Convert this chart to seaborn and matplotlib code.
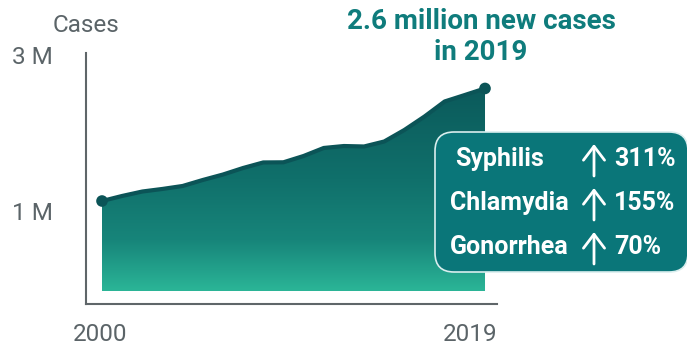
import numpy as np
import pandas as pd
import matplotlib
matplotlib.use("Agg")
import matplotlib.pyplot as plt
import seaborn as sns
from matplotlib.colors import LinearSegmentedColormap
from matplotlib.patches import FancyBboxPatch, FancyArrowPatch
from matplotlib.transforms import IdentityTransform

# New STD cases per year (millions)
years = list(range(2000, 2020))
cases = [1.155, 1.22, 1.277, 1.31, 1.348, 1.425, 1.495, 1.579, 1.65, 1.652,
         1.733, 1.836, 1.861, 1.855, 1.919, 2.067, 2.24, 2.433, 2.516, 2.6]

y_ticks = [1, 3]
y_tick_labels = ["1 M", "3 M"]
x_tick_labels = ["2000", "2019"]

diseases = ["Syphilis", "Chlamydia", "Gonorrhea"]
increases = ["311%", "155%", "70%"]

headline = "2.6 million new cases\nin 2019"

df = pd.DataFrame({"year": years, "cases": cases})

sns.set_style("white")
plt.rcParams["font.family"] = ["Roboto", "DejaVu Sans"]

W, H = 687, 347
fig = plt.figure(figsize=(W / 100, H / 100), dpi=100)
ax = fig.add_axes([86 / W, 1 - 304 / H, (497 - 86) / W, (304 - 53) / H])

XLIM = (1999.206, 2019.595)
YLIM = (-0.167, 3.055)

# gradient area under the curve
cmap = LinearSegmentedColormap.from_list(
    "teal", [(0.0, "#2bb597"), (0.25, "#17857a"), (0.55, "#10706b"), (1.0, "#0b5a5b")])
grad = np.linspace(0, 1, 256).reshape(-1, 1)
img = ax.imshow(grad, cmap=cmap, origin="lower", aspect="auto",
                extent=[years[0], years[-1], 0, max(cases)], zorder=1)
poly = ax.fill_between(df["year"], 0, df["cases"], color="none", lw=0)
img.set_clip_path(poly.get_paths()[0], transform=ax.transData)

sns.lineplot(data=df, x="year", y="cases", ax=ax, color="#0b5457", lw=3, zorder=3)
ends = df.iloc[[0, -1]]
sns.scatterplot(data=ends, x="year", y="cases", ax=ax, color="#0b5457", s=70,
                edgecolor="none", zorder=4)

ax.set_xlim(*XLIM)
ax.set_ylim(*YLIM)

# axes styling
for s in ["top", "right"]:
    ax.spines[s].set_visible(False)
for s in ["left", "bottom"]:
    ax.spines[s].set_color("#5f6669")
    ax.spines[s].set_linewidth(1.5)
ax.set_xticks([])
ax.set_yticks([])
ax.set_xlabel("")
ax.set_ylabel("")

grey = "#5b6468"
for v, lab in zip(y_ticks, y_tick_labels):
    ax.text(XLIM[0] - 33 / 20.16, v, lab, ha="right", va="center",
            fontsize=17.5, color=grey)
ax.text(2000 - 0.1, YLIM[0] - 30 / 77.9, x_tick_labels[0], ha="center", va="center",
        fontsize=17.5, color=grey)
ax.text(XLIM[1], YLIM[0] - 30 / 77.9, x_tick_labels[1], ha="right", va="center",
        fontsize=17.5, color=grey)
fig.text(86 / W, 1 - 25 / H, "Cases", ha="center", va="center", fontsize=17.5, color=grey)

# headline
fig.text(481 / W, 1 - 37 / H, headline, ha="center", va="center", fontsize=20,
         fontweight="bold", color="#0f7c7c", linespacing=1.15)

# callout box (pixel coordinates, origin bottom-left)
px = IdentityTransform()
box = FancyBboxPatch((435, H - 272), 688 - 435, 272 - 132,
                     boxstyle="round,pad=0,rounding_size=19",
                     transform=px, facecolor="#0a7679",
                     edgecolor="#d9eeee", lw=1.2, zorder=10)
fig.add_artist(box)
row_y = [159, 203, 247]
name_x = [455, 450, 450]
for ry, nx, name, inc in zip(row_y, name_x, diseases, increases):
    fig.text(nx / W, 1 - ry / H, name, ha="left", va="center", fontsize=18,
             fontweight="bold", color="white", zorder=11)
    arrow = FancyArrowPatch((594, H - (ry + 17)), (594, H - (ry - 15)),
                            transform=px,
                            arrowstyle="->,head_length=0.5,head_width=0.38",
                            mutation_scale=20, lw=2, color="white", zorder=11,
                            shrinkA=0, shrinkB=0)
    fig.add_artist(arrow)
    fig.text(614 / W, 1 - ry / H, inc, ha="left", va="center", fontsize=18,
             fontweight="bold", color="white", zorder=11)

fig.savefig("out.png", dpi=100)
